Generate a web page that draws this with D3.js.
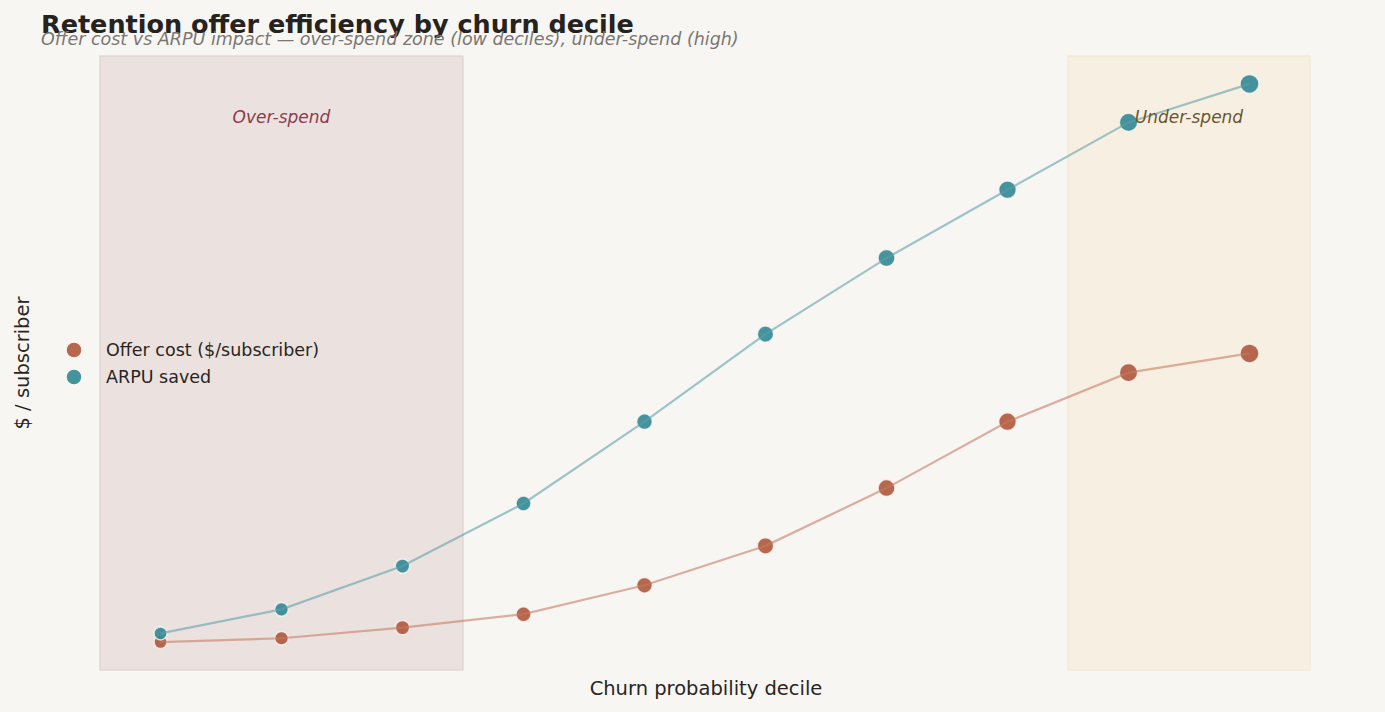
<!DOCTYPE html>
<html>
<head>
<meta charset="utf-8">
<script src="https://cdn.jsdelivr.net/npm/d3@7"></script>
<style>
  body { margin: 0; background: #f7f6f3; }
  svg { font-family: "DejaVu Sans", sans-serif; }
</style>
</head>
<body>
<svg id="chart" width="1385" height="712"></svg>
<script>
// churn deciles 1..10
var deciles = [1, 2, 3, 4, 5, 6, 7, 8, 9, 10];
// offer cost per subscriber (no axis ticks shown)
var offerCost = [2.0, 2.4, 3.5, 4.9, 7.9, 12.0, 18.0, 24.9, 30.0, 32.0];
// ARPU saved per subscriber
var arpuSaved = [2.9, 5.4, 9.9, 16.4, 24.9, 34.0, 41.9, 49.0, 56.0, 60.0];
// shaded zones in decile units
var zoneNames = ["Over-spend", "Under-spend"];
var zoneFrom = [0.5, 8.5];
var zoneTo = [3.5, 10.5];

var svg = d3.select("#chart");
var margin = {top: 56, right: 75, bottom: 42, left: 100},
    width = 1385 - margin.left - margin.right,
    height = 712 - margin.top - margin.bottom;

var x = d3.scaleLinear().domain([0.5, 10.5]).range([margin.left, margin.left + width]);

var lo = d3.min(offerCost.concat(arpuSaved)), hi = d3.max(offerCost.concat(arpuSaved));
var pad = (hi - lo) * 0.05;
var y = d3.scaleLinear().domain([lo - pad, hi + pad]).range([margin.top + height, margin.top]);

var size = d3.scaleLinear().domain([1, 10]).range([6.5, 9.5]);

// zones
var zoneFill = ["#ebe2df", "#f7f0e2"], zoneStroke = ["#dccbc7", "#f2e6cc"], zoneText = ["#8c3b4d", "#6b5430"];
zoneNames.forEach(function(name, i) {
  svg.append("rect")
    .attr("x", x(zoneFrom[i]))
    .attr("y", margin.top)
    .attr("width", x(zoneTo[i]) - x(zoneFrom[i]))
    .attr("height", height)
    .attr("fill", zoneFill[i])
    .attr("stroke", zoneStroke[i])
    .attr("stroke-width", 1);
});

var series = [
  {name: "Offer cost ($/subscriber)", values: offerCost, color: "#b05a40", line: "#c47a62"},
  {name: "ARPU saved", values: arpuSaved, color: "#348a96", line: "#5c9fa8"}
];

var line = d3.line()
  .x(function(d, i) { return x(deciles[i]); })
  .y(function(d) { return y(d); });

series.forEach(function(s) {
  svg.append("g").selectAll("circle")
    .data(s.values)
    .enter().append("circle")
      .attr("cx", function(d, i) { return x(deciles[i]); })
      .attr("cy", function(d) { return y(d); })
      .attr("r", function(d, i) { return size(deciles[i]); })
      .attr("fill", s.color)
      .attr("fill-opacity", 0.92)
      .attr("stroke", "#fbf6f2")
      .attr("stroke-opacity", 0.8)
      .attr("stroke-width", 1.5);
});

series.forEach(function(s) {
  svg.append("path")
    .datum(s.values)
    .attr("d", line)
    .attr("fill", "none")
    .attr("stroke", s.line)
    .attr("stroke-opacity", 0.58)
    .attr("stroke-width", 2.2);
});

// zone labels
zoneNames.forEach(function(name, i) {
  svg.append("text")
    .attr("x", x((zoneFrom[i] + zoneTo[i]) / 2))
    .attr("y", 123)
    .attr("text-anchor", "middle")
    .attr("font-size", 17)
    .attr("font-style", "italic")
    .attr("fill", zoneText[i])
    .text(name);
});

// legend
series.forEach(function(s, i) {
  svg.append("circle")
    .attr("cx", 74).attr("cy", 350 + i * 27).attr("r", 8)
    .attr("fill", s.color).attr("fill-opacity", 0.92)
    .attr("stroke", "#fbf6f2").attr("stroke-width", 1.5);
  svg.append("text")
    .attr("x", 106).attr("y", 356 + i * 27)
    .attr("font-size", 17.5)
    .attr("fill", "#2a2522")
    .text(s.name);
});

// axis labels
svg.append("text")
  .attr("x", 706).attr("y", 695)
  .attr("text-anchor", "middle")
  .attr("font-size", 19.5)
  .attr("fill", "#2a2522")
  .text("Churn probability decile");

svg.append("text")
  .attr("transform", "translate(29," + (margin.top + height / 2) + ") rotate(-90)")
  .attr("text-anchor", "middle")
  .attr("font-size", 19.5)
  .attr("fill", "#2a2522")
  .text("$ / subscriber");

// titles (they touch in the reference too)
svg.append("text")
  .attr("x", 41).attr("y", 33)
  .attr("font-size", 25.5)
  .attr("font-weight", "bold")
  .attr("fill", "#26221e")
  .text("Retention offer efficiency by churn decile");

svg.append("text")
  .attr("x", 41).attr("y", 45)
  .attr("font-size", 17.5)
  .attr("font-style", "italic")
  .attr("fill", "#7a7773")
  .text("Offer cost vs ARPU impact — over-spend zone (low deciles), under-spend (high)");
</script>
</body>
</html>
